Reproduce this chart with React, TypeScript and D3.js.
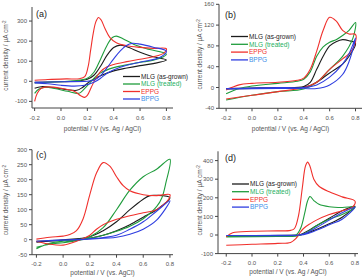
import React from "react";
import * as d3 from "d3";

type Pt = [number, number];

// Cyclic voltammograms: potential (V vs Ag/AgCl), current density (µA cm⁻²)
// Each loop: anodic sweep -0.2 → 0.8 V, then cathodic sweep back to -0.2 V.

// (a)
const aMlgGrown: Pt[] = [
  [-0.2, -5], [0, -2], [0.1, 0], [0.2, 10], [0.25, 30], [0.3, 75], [0.35, 130], [0.4, 168], [0.45, 180], [0.5, 172], [0.6, 145], [0.7, 122], [0.8, 106],
  [0.7, 88], [0.6, 78], [0.5, 66], [0.4, 52], [0.3, 28], [0.22, 0], [0.16, -32], [0.12, -45], [0.05, -42], [-0.05, -32], [-0.15, -27], [-0.2, -35],
];
const aMlgTreated: Pt[] = [
  [-0.2, -8], [-0.1, -5], [0, -2], [0.1, 2], [0.2, 15], [0.25, 45], [0.3, 110], [0.35, 180], [0.39, 218], [0.42, 225], [0.47, 212], [0.55, 185], [0.65, 162], [0.8, 135],
  [0.7, 105], [0.6, 95], [0.5, 82], [0.4, 68], [0.3, 42], [0.25, 15], [0.2, -22], [0.15, -55], [0.13, -60], [0.05, -50], [-0.05, -36], [-0.12, -30], [-0.17, -40], [-0.2, -60],
];
const aEppg: Pt[] = [
  [-0.2, 5], [-0.1, 9], [0.04, 12], [0.14, 13], [0.18, 23], [0.205, 70], [0.225, 155], [0.245, 240], [0.265, 297], [0.285, 318], [0.305, 305], [0.333, 264], [0.37, 219], [0.42, 192], [0.5, 177], [0.6, 169], [0.7, 164], [0.8, 162],
  [0.78, 140], [0.7, 122], [0.6, 110], [0.5, 98], [0.4, 84], [0.35, 72], [0.3, 48], [0.26, 10], [0.23, -30], [0.2, -70], [0.18, -80], [0.15, -72], [0.1, -50], [0, -35], [-0.1, -28], [-0.15, -35], [-0.18, -60], [-0.2, -100],
];
const aBppg: Pt[] = [
  [-0.2, -5], [0, -2], [0.2, 0], [0.25, 5], [0.3, 28], [0.35, 68], [0.4, 112], [0.45, 152], [0.5, 180], [0.54, 189], [0.6, 185], [0.7, 170], [0.8, 150],
  [0.75, 118], [0.6, 95], [0.45, 70], [0.35, 40], [0.3, 15], [0.25, -5], [0.18, -20], [0.1, -24], [0, -20], [-0.1, -12], [-0.2, -8],
];

// (b)
const bMlgGrown: Pt[] = [
  [-0.2, -2], [0, -1], [0.2, 0], [0.4, 2], [0.45, 10], [0.5, 35], [0.55, 60], [0.6, 80], [0.65, 88], [0.7, 92], [0.75, 90], [0.8, 85],
  [0.75, 60], [0.7, 45], [0.6, 28], [0.5, 10], [0.45, 4], [0.4, 1], [0.2, -1], [0, -2], [-0.2, -3],
];
const bMlgTreated: Pt[] = [
  [-0.2, -12], [-0.1, -2], [0, 3], [0.2, 8], [0.35, 12], [0.4, 16], [0.45, 30], [0.5, 60], [0.55, 78], [0.6, 87], [0.65, 92], [0.7, 100], [0.75, 110], [0.8, 125],
  [0.78, 95], [0.7, 60], [0.6, 35], [0.5, 10], [0.4, -3], [0.2, -8], [0, -15], [-0.2, -24],
];
const bEppg: Pt[] = [
  [-0.2, -5], [-0.1, 5], [0, 8], [0.2, 10], [0.35, 14], [0.4, 18], [0.45, 35], [0.5, 70], [0.55, 110], [0.6, 135], [0.65, 128], [0.7, 110], [0.75, 103], [0.8, 102],
  [0.79, 80], [0.75, 65], [0.7, 55], [0.6, 35], [0.5, 10], [0.4, 0], [0.2, -8], [0, -15], [-0.2, -22],
];
const bBppg: Pt[] = [
  [-0.2, -2], [0, -1], [0.2, 0], [0.4, 0], [0.5, 5], [0.6, 20], [0.7, 45], [0.75, 65], [0.8, 95],
  [0.75, 50], [0.7, 25], [0.6, 5], [0.5, -2], [0.4, -2], [0.2, -2], [-0.2, -3],
];

// (c)
const cMlgGrown: Pt[] = [
  [-0.2, -5], [0, 0], [0.2, 10], [0.3, 30], [0.4, 60], [0.5, 100], [0.6, 135], [0.65, 147], [0.7, 148], [0.8, 140],
  [0.7, 100], [0.6, 75], [0.5, 50], [0.4, 30], [0.3, 15], [0.2, 5], [0, -2], [-0.2, -8],
];
const cMlgTreated: Pt[] = [
  [-0.2, -30], [-0.1, -12], [0, -5], [0.1, 0], [0.2, 10], [0.3, 40], [0.4, 100], [0.5, 165], [0.6, 210], [0.7, 235], [0.8, 268],
  [0.77, 190], [0.74, 140], [0.7, 110], [0.6, 70], [0.5, 45], [0.4, 28], [0.3, 15], [0.2, 5], [0.1, -3], [0, -10], [-0.1, -15], [-0.2, -25],
];
const cEppg: Pt[] = [
  [-0.2, 2], [-0.1, 8], [0, 12], [0.05, 17], [0.1, 30], [0.15, 70], [0.2, 150], [0.25, 222], [0.3, 257], [0.35, 245], [0.4, 210], [0.45, 180], [0.5, 163], [0.6, 150], [0.7, 147], [0.8, 150],
  [0.79, 135], [0.7, 100], [0.6, 90], [0.5, 80], [0.4, 68], [0.3, 50], [0.25, 35], [0.2, 15], [0.1, -5], [0, -18], [-0.1, -15], [-0.2, -5],
];
const cBppg: Pt[] = [
  [-0.2, -5], [0, 0], [0.2, 3], [0.4, 15], [0.5, 35], [0.6, 60], [0.7, 95], [0.8, 130],
  [0.7, 65], [0.6, 35], [0.5, 18], [0.4, 8], [0.2, 2], [0, -2], [-0.2, -5],
];

// (d)
const dMlgGrown: Pt[] = [
  [-0.2, -5], [0, -3], [0.3, -2], [0.36, 0], [0.4, 10], [0.5, 50], [0.6, 90], [0.7, 130], [0.75, 145], [0.8, 155],
  [0.7, 95], [0.6, 60], [0.5, 30], [0.4, 5], [0.35, -2], [0, -4], [-0.2, -6],
];
const dMlgTreated: Pt[] = [
  [-0.2, -8], [0, -5], [0.2, -3], [0.32, -2], [0.35, 5], [0.38, 40], [0.41, 120], [0.43, 180], [0.45, 207], [0.48, 185], [0.52, 165], [0.6, 152], [0.7, 148], [0.8, 150],
  [0.7, 110], [0.6, 85], [0.5, 50], [0.45, 25], [0.4, 5], [0.35, -5], [0.2, -8], [-0.2, -10],
];
const dEppg: Pt[] = [
  [-0.2, -10], [-0.15, 12], [0, 20], [0.2, 22], [0.3, 25], [0.33, 35], [0.36, 100], [0.39, 250], [0.415, 370], [0.432, 392], [0.45, 370], [0.48, 300], [0.52, 262], [0.6, 232], [0.7, 205], [0.8, 182],
  [0.78, 150], [0.7, 130], [0.6, 110], [0.5, 80], [0.45, 60], [0.4, 35], [0.37, 10], [0.34, -20], [0.3, -40], [0.2, -45], [0, -50], [-0.2, -55],
];
const dBppg: Pt[] = [
  [-0.2, -3], [0.35, -1], [0.4, 5], [0.5, 40], [0.6, 80], [0.7, 120], [0.8, 150],
  [0.7, 85], [0.6, 55], [0.5, 25], [0.4, 2], [0.2, -2], [-0.2, -4],
];

const seriesNames = ["MLG (as-grown)", "MLG (treated)", "EPPG", "BPPG"];
const lineColors = ["#1c1c1c", "#1f9c3c", "#f0302c", "#2f3ee0"];
const legendTextColors = ["#1c1c1c", "#22b060", "#f0302c", "#3a8ee8"];

const xTicks = [-0.2, 0, 0.2, 0.4, 0.6, 0.8];
const aYTicks = [-100, 0, 100, 200, 300];
const bYTicks = [-40, 0, 40, 80, 120, 160];
const cYTicks = [-50, 0, 50, 100, 150, 200, 250, 300];
const dYTicks = [-100, 0, 100, 200, 300, 400];

const xTitleAgAgCl = "potential / V (vs. Ag / AgCl)";
const xTitleAgCl = "potential / V (vs. AgCl)";

interface PanelProps {
  tag: string;
  series: Pt[][];
  xDomain: [number, number];
  xRange: [number, number];
  yDomain: [number, number];
  yRange: [number, number];
  yTicks: number[];
  xTitle: string;
  xTitleGap: number;
  yTitleX: number;
  legend?: { x: number; y: number; dy: number };
  tagPos: [number, number];
}

const axisColor = "#444";
const labelColor = "#555";
const font = "'Liberation Sans', Arial, sans-serif";

function Panel(p: PanelProps) {
  const x = d3.scaleLinear().domain(p.xDomain).range(p.xRange);
  const y = d3.scaleLinear().domain(p.yDomain).range(p.yRange);
  const line = d3
    .line<Pt>()
    .x((d) => x(d[0]))
    .y((d) => y(d[1]))
    .curve(d3.curveCatmullRom.alpha(0.5));
  const [x0, x1] = p.xRange;
  const [yb, yt] = p.yRange;
  const fmtX = (v: number) => (v < 0 ? "-" : "") + Math.abs(v).toFixed(1);
  const fmtY = (v: number) => (v < 0 ? "-" : "") + Math.abs(v);
  return (
    <g fontFamily={font}>
      {p.series.map((s, i) => (
        <path key={i} d={line(s) ?? ""} fill="none" stroke={lineColors[i]} strokeWidth={1.1} />
      ))}
      <line x1={x0} x2={x0} y1={yb} y2={yt} stroke={axisColor} strokeWidth={1} />
      <line x1={x0} x2={x1} y1={yb} y2={yb} stroke={axisColor} strokeWidth={1} />
      {p.yTicks.map((t) => (
        <g key={t}>
          <line x1={x0 - 3} x2={x0} y1={y(t)} y2={y(t)} stroke={axisColor} />
          <text x={x0 - 5} y={y(t)} dy="0.35em" textAnchor="end" fontSize={6} fill={labelColor}>
            {fmtY(t)}
          </text>
        </g>
      ))}
      {xTicks.map((t) => (
        <g key={t}>
          <line x1={x(t)} x2={x(t)} y1={yb} y2={yb + 3} stroke={axisColor} />
          <text x={x(t)} y={yb + 11.5} textAnchor="middle" fontSize={6} fill={labelColor}>
            {fmtX(t)}
          </text>
        </g>
      ))}
      <text x={(x0 + x1) / 2} y={yb + p.xTitleGap} textAnchor="middle" fontSize={6.5} fill={labelColor}>
        {p.xTitle}
      </text>
      <text
        transform={`translate(${p.yTitleX},${(yb + yt) / 2 - 2}) rotate(-90)`}
        textAnchor="middle"
        fontSize={6.5}
        fill={labelColor}
      >
        current density / μA cm<tspan dy={-2.5} fontSize={4.5}>-2</tspan>
      </text>
      <text x={p.tagPos[0]} y={p.tagPos[1]} fontSize={9} fill="#222">
        {p.tag}
      </text>
      {p.legend &&
        seriesNames.map((n, i) => {
          const ly = p.legend!.y + i * p.legend!.dy;
          return (
            <g key={n}>
              <line x1={p.legend!.x} x2={p.legend!.x + 17} y1={ly} y2={ly} stroke={lineColors[i]} strokeWidth={1.3} />
              <text x={p.legend!.x + 18} y={ly} dy="0.35em" fontSize={6.5} fill={legendTextColors[i]}>
                {n}
              </text>
            </g>
          );
        })}
    </g>
  );
}

export default function App() {
  return (
    <svg width={364} height={277} style={{ position: "absolute", left: 0, top: 0, background: "#fff" }}>
      <rect width={364} height={277} fill="#fff" />
      <Panel
        tag="(a)"
        series={[aMlgGrown, aMlgTreated, aEppg, aBppg]}
        xDomain={[-0.22, 0.85]}
        xRange={[32, 173]}
        yDomain={[-133, 370]}
        yRange={[108, 7]}
        yTicks={aYTicks}
        xTitle={xTitleAgAgCl}
        xTitleGap={23}
        yTitleX={8}
        legend={{ x: 123, y: 76.5, dy: 7.5 }}
        tagPos={[36, 17]}
      />
      <Panel
        tag="(b)"
        series={[bMlgGrown, bMlgTreated, bEppg, bBppg]}
        xDomain={[-0.255, 0.85]}
        xRange={[219, 362]}
        yDomain={[-40, 160]}
        yRange={[108.3, 4.3]}
        yTicks={bYTicks}
        xTitle={xTitleAgAgCl}
        xTitleGap={22.5}
        yTitleX={202}
        legend={{ x: 231, y: 36.5, dy: 7.8 }}
        tagPos={[225, 18]}
      />
      <Panel
        tag="(c)"
        series={[cMlgGrown, cMlgTreated, cEppg, cBppg]}
        xDomain={[-0.233, 0.823]}
        xRange={[32, 173]}
        yDomain={[-50, 300]}
        yRange={[254.7, 149.7]}
        yTicks={cYTicks}
        xTitle={xTitleAgCl}
        xTitleGap={20.3}
        yTitleX={8}
        tagPos={[36, 158]}
      />
      <Panel
        tag="(d)"
        series={[dMlgGrown, dMlgTreated, dEppg, dBppg]}
        xDomain={[-0.264, 0.823]}
        xRange={[218, 358]}
        yDomain={[-100, 450]}
        yRange={[253.6, 151.3]}
        yTicks={dYTicks}
        xTitle={xTitleAgAgCl}
        xTitleGap={20.3}
        yTitleX={202}
        legend={{ x: 232, y: 184, dy: 7.7 }}
        tagPos={[225, 161]}
      />
    </svg>
  );
}
